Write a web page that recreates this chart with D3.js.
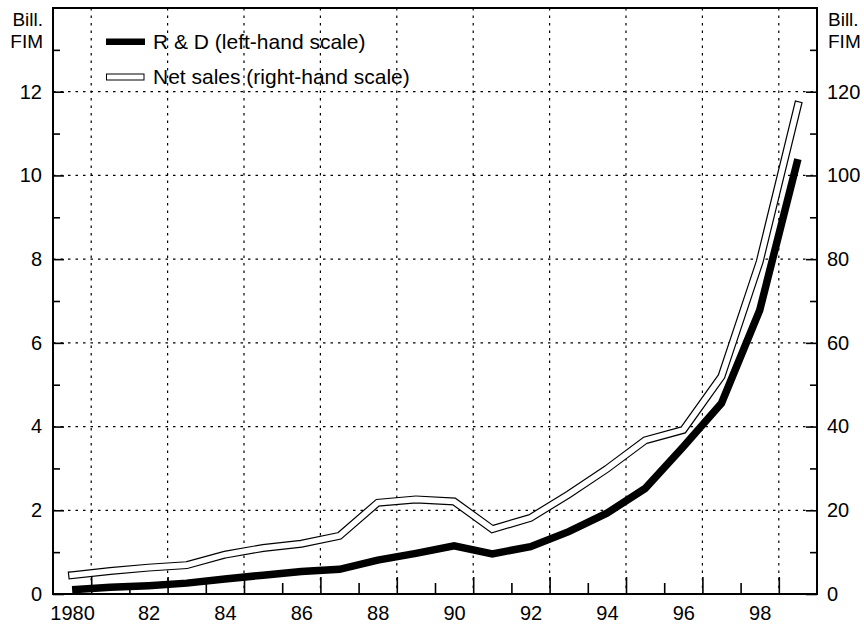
<!DOCTYPE html>
<html>
<head>
<meta charset="utf-8">
<script src="https://cdn.jsdelivr.net/npm/d3@7"></script>
<style>
  html, body { margin: 0; padding: 0; background: #fff; }
  svg { display: block; font-family: "Liberation Sans", Arial, Helvetica, sans-serif; }
</style>
</head>
<body>
<svg id="chart" width="864" height="625"></svg>
<script>
// ---- data ----
const years = [1980,1981,1982,1983,1984,1985,1986,1987,1988,1989,1990,1991,1992,1993,1994,1995,1996,1997,1998,1999];
const rdValues = [0.10,0.16,0.20,0.26,0.36,0.45,0.54,0.59,0.81,0.97,1.15,0.96,1.13,1.49,1.93,2.52,3.52,4.56,6.78,10.39];
const netSalesValues = [4.5,5.5,6.3,6.9,9.4,11.0,12.0,13.9,21.8,22.6,22.1,15.5,18.2,23.8,29.9,36.7,39.2,52.0,79.4,116.8];
const leftTickLabels = [0,2,4,6,8,10,12];
const rightTickLabels = [0,20,40,60,80,100,120];
const xTickLabels = [1980,1982,1984,1986,1988,1990,1992,1994,1996,1998];
const seriesNames = ["R & D (left-hand scale)", "Net sales (right-hand scale)"];
const unitLabel = ["Bill.", "FIM"];

// ---- layout ----
const L = 53, R = 817, T = 8, B = 594;
const svg = d3.select("#chart");
const FS = 20;
const FONT = '"Liberation Sans", Arial, sans-serif';

const x = d3.scaleLinear().domain([1979.5, 1999.5]).range([L, R]);
const yL = d3.scaleLinear().domain([0, 14]).range([B, T]);
const yR = d3.scaleLinear().domain([0, 140]).range([B, T]);

// gridlines
const grid = svg.append("g").attr("stroke", "#000").attr("stroke-width", 1.2).attr("stroke-dasharray", "2.5,5");
const hGrid = [2,4,6,8,10,12];
grid.selectAll("line.h").data(hGrid).join("line")
  .attr("x1", L).attr("x2", R).attr("y1", d => yL(d)).attr("y2", d => yL(d));
const vGrid = d3.range(1980.5, 1999, 2);
grid.selectAll("line.v").data(vGrid).join("line")
  .attr("x1", d => x(d)).attr("x2", d => x(d)).attr("y1", T).attr("y2", B);

// axes
function styleAxis(g) {
  g.select(".domain").remove();
  g.selectAll(".tick line").attr("stroke", "#000").attr("stroke-width", 1.6);
  g.selectAll(".tick text").attr("fill", "#000").attr("font-size", FS).attr("font-family", FONT);
}
svg.append("g").attr("transform", `translate(${L},0)`)
  .call(d3.axisLeft(yL).tickValues(leftTickLabels).tickSize(-11).tickPadding(11).tickFormat(d3.format("d")))
  .call(styleAxis);
svg.append("g").attr("transform", `translate(${L},0)`)
  .call(d3.axisLeft(yL).tickValues([1,3,5,7,9,11,13]).tickSize(-7).tickFormat(""))
  .call(styleAxis);
svg.append("g").attr("transform", `translate(${R},0)`)
  .call(d3.axisRight(yR).tickValues(rightTickLabels).tickSize(-11).tickPadding(10).tickFormat(d3.format("d")))
  .call(styleAxis);
svg.append("g").attr("transform", `translate(${R},0)`)
  .call(d3.axisRight(yR).tickValues([10,30,50,70,90,110,130]).tickSize(-7).tickFormat(""))
  .call(styleAxis);
svg.append("g").attr("transform", `translate(0,${B})`)
  .call(d3.axisBottom(x).tickValues(d3.range(1980.5, 1999, 2)).tickSize(-17).tickFormat(""))
  .call(styleAxis);
svg.append("g").attr("transform", `translate(0,${B})`)
  .call(d3.axisBottom(x).tickValues(d3.range(1981.5, 1998, 2)).tickSize(-11).tickFormat(""))
  .call(styleAxis);
svg.append("g").attr("transform", `translate(0,${B})`)
  .call(d3.axisBottom(x).tickValues(xTickLabels).tickSize(0).tickPadding(12)
    .tickFormat(d => d === 1980 ? "1980" : String(d % 100).padStart(2, "0")))
  .call(styleAxis);

// frame
svg.append("rect").attr("x", L).attr("y", T).attr("width", R - L).attr("height", B - T)
  .attr("fill", "none").attr("stroke", "#000").attr("stroke-width", 2);

// unit labels
const ul = svg.append("g").attr("font-size", 19).attr("fill", "#000");
ul.append("text").attr("x", 43).attr("y", 26).attr("text-anchor", "end").text(unitLabel[0]);
ul.append("text").attr("x", 43).attr("y", 48).attr("text-anchor", "end").text(unitLabel[1]);
ul.append("text").attr("x", 828).attr("y", 26).text(unitLabel[0]);
ul.append("text").attr("x", 828).attr("y", 48).text(unitLabel[1]);

// lines
const lineL = d3.line().x((d, i) => x(years[i])).y(d => yL(d));
const lineR = d3.line().x((d, i) => x(years[i])).y(d => yR(d));

svg.append("path").datum(netSalesValues).attr("d", lineR)
  .attr("fill", "none").attr("stroke", "#000").attr("stroke-width", 8)
  .attr("stroke-linejoin", "miter").attr("stroke-linecap", "square");
svg.append("path").datum(netSalesValues).attr("d", lineR)
  .attr("fill", "none").attr("stroke", "#fff").attr("stroke-width", 5.6)
  .attr("stroke-linejoin", "miter").attr("stroke-linecap", "square");
svg.append("path").datum(rdValues).attr("d", lineL)
  .attr("fill", "none").attr("stroke", "#000").attr("stroke-width", 7.5)
  .attr("stroke-linejoin", "miter").attr("stroke-linecap", "butt");

// legend
const lg = svg.append("g").attr("font-size", 21).attr("fill", "#000");
lg.append("rect").attr("x", 106).attr("y", 38.5).attr("width", 39).attr("height", 6.5).attr("fill", "#000");
lg.append("text").attr("x", 153).attr("y", 49).text(seriesNames[0]);
lg.append("rect").attr("x", 106.5).attr("y", 74).attr("width", 37.5).attr("height", 6).attr("fill", "#fff").attr("stroke", "#000").attr("stroke-width", 1);
lg.append("text").attr("x", 153).attr("y", 84).text(seriesNames[1]);
</script>
</body>
</html>
